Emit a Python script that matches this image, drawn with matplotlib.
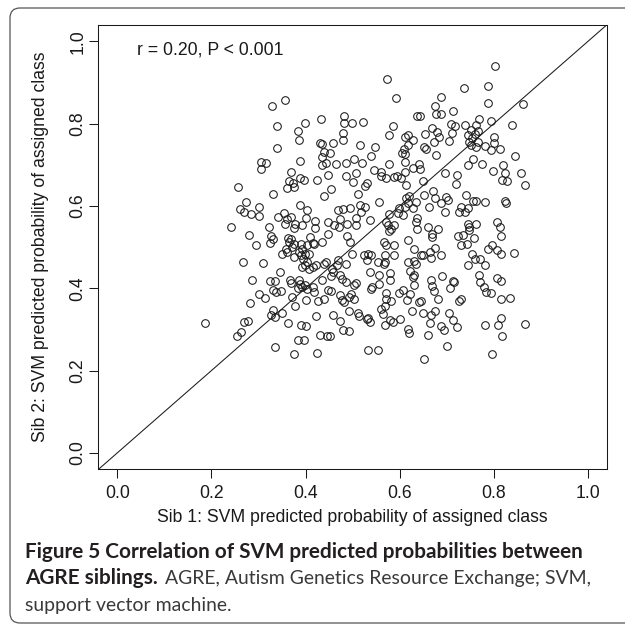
import matplotlib
matplotlib.use("Agg")
import matplotlib.pyplot as plt
from matplotlib.patches import FancyBboxPatch

# ---------------- data ----------------
sib1 = [
    # upper-left block
    0.356,0.329,0.433,0.398,0.340,0.482,0.482,0.498,0.522,0.384,0.480,0.386,0.480,0.430,0.434,0.459,0.515,0.340,
    0.438,0.451,0.435,0.305,0.316,0.305,0.388,0.434,0.444,0.465,0.486,0.503,0.519,0.368,0.365,0.373,0.361,0.376,
    0.389,0.396,0.424,0.447,0.486,0.506,0.500,0.531,0.527,0.256,0.330,0.453,0.439,0.512,0.273,0.261,0.270,0.283,
    0.300,0.300,0.388,0.403,0.401,0.469,0.480,0.494,0.515,0.526,0.517,0.508,0.342,0.355,0.368,0.361,
    # upper-right block
    0.803,0.573,0.736,0.787,0.592,0.688,0.674,0.787,0.861,0.636,0.642,0.677,0.688,0.713,0.769,0.793,0.839,0.585,
    0.709,0.717,0.739,0.762,0.752,0.766,0.759,0.753,0.800,0.799,0.794,0.812,0.653,0.669,0.679,0.683,0.673,0.710,
    0.705,0.745,0.746,0.752,0.761,0.767,0.780,0.578,0.612,0.617,0.617,0.608,0.612,0.605,0.629,0.652,0.656,0.677,
    0.547,0.539,0.577,0.610,0.629,0.641,0.643,0.546,0.560,0.571,0.561,0.588,0.595,0.603,0.612,0.613,0.649,0.696,
    0.722,0.720,0.744,0.756,0.774,0.798,0.819,0.824,0.817,0.827,0.845,0.858,0.866,0.555,0.620,0.613,0.617,0.627,
    0.634,0.652,0.670,0.675,0.688,0.703,0.663,0.698,0.741,0.755,0.761,0.780,0.824,0.826,0.744,0.729,0.725,0.739,
    0.599,0.611,0.597,0.606,0.578,0.636,0.696,
    # lower-left block
    0.242,0.280,0.294,0.323,0.327,0.331,0.324,0.357,0.378,0.375,0.393,0.421,0.421,0.448,0.460,0.471,0.474,0.488,
    0.508,0.362,0.368,0.365,0.375,0.371,0.359,0.390,0.393,0.403,0.410,0.415,0.417,0.435,0.350,0.361,0.375,0.386,
    0.390,0.398,0.407,0.394,0.402,0.266,0.310,0.345,0.393,0.398,0.407,0.416,0.423,0.440,0.444,0.455,0.459,0.454,
    0.469,0.467,0.486,0.499,0.474,0.478,0.485,0.503,0.506,0.525,0.287,0.324,0.334,0.330,0.338,0.348,0.300,0.313,
    0.281,0.366,0.370,0.386,0.389,0.393,0.383,0.398,0.403,0.415,0.417,0.435,0.371,0.377,0.400,0.426,0.439,0.448,
    0.453,0.473,0.478,0.481,0.492,0.503,0.496,0.493,0.512,0.513,0.530,0.474,0.459,0.422,0.186,0.269,0.277,0.262,
    0.254,0.330,0.327,0.334,0.349,0.362,0.391,0.401,0.384,0.396,0.430,0.446,0.451,0.480,0.492,0.336,0.376,0.425,
    0.447,0.487,0.494,
    # lower-right block
    0.537,0.571,0.574,0.581,0.578,0.588,0.634,0.637,0.659,0.668,0.668,0.682,0.744,0.746,0.746,0.762,0.723,0.734,
    0.757,0.730,0.743,0.806,0.812,0.814,0.567,0.571,0.587,0.617,0.631,0.644,0.649,0.664,0.666,0.675,0.688,0.532,
    0.539,0.530,0.554,0.569,0.569,0.567,0.588,0.617,0.631,0.634,0.622,0.630,0.627,0.537,0.556,0.580,0.580,0.556,
    0.542,0.539,0.571,0.571,0.581,0.569,0.598,0.606,0.615,0.622,0.631,0.641,0.646,0.625,0.649,0.666,0.666,0.669,
    0.672,0.681,0.689,0.675,0.707,0.714,0.716,0.725,0.730,0.704,0.713,0.722,0.688,0.693,0.665,0.659,0.769,0.770,
    0.778,0.783,0.793,0.807,0.814,0.815,0.834,0.780,0.788,0.796,0.807,0.814,0.842,0.814,0.808,0.781,0.817,0.866,
    0.796,0.700,0.651,0.533,0.554,0.532,0.537,0.569,0.585,0.580,0.564,0.561,0.601,0.617,0.619,0.753,0.760,0.771,
    0.745,
]
sib2 = [
    # upper-left block
    0.857,0.842,0.812,0.802,0.793,0.819,0.802,0.802,0.804,0.782,0.777,0.760,0.760,0.752,0.750,0.752,0.748,0.740,
    0.731,0.728,0.719,0.706,0.703,0.690,0.708,0.699,0.703,0.701,0.705,0.713,0.703,0.683,0.660,0.655,0.644,0.647,
    0.668,0.663,0.663,0.675,0.672,0.680,0.659,0.656,0.649,0.646,0.629,0.640,0.625,0.628,0.610,0.592,0.586,0.581,
    0.598,0.575,0.603,0.591,0.571,0.589,0.593,0.594,0.602,0.598,0.586,0.571,0.572,0.583,0.574,0.568,
    # upper-right block
    0.939,0.908,0.886,0.892,0.863,0.864,0.843,0.849,0.848,0.818,0.818,0.824,0.824,0.831,0.812,0.806,0.796,0.794,
    0.799,0.794,0.796,0.796,0.784,0.782,0.774,0.765,0.768,0.752,0.735,0.737,0.774,0.790,0.780,0.768,0.756,0.776,
    0.758,0.772,0.754,0.748,0.742,0.756,0.746,0.771,0.768,0.772,0.748,0.737,0.725,0.729,0.759,0.743,0.737,0.723,
    0.742,0.721,0.701,0.707,0.693,0.701,0.690,0.687,0.683,0.667,0.673,0.671,0.673,0.667,0.683,0.650,0.660,0.679,
    0.675,0.653,0.699,0.715,0.701,0.685,0.699,0.681,0.664,0.661,0.721,0.679,0.650,0.610,0.625,0.618,0.606,0.594,
    0.610,0.626,0.637,0.618,0.606,0.614,0.598,0.622,0.626,0.612,0.612,0.610,0.612,0.608,0.594,0.598,0.586,0.584,
    0.594,0.598,0.582,0.578,0.581,0.571,0.584,
    # lower-left block
    0.549,0.530,0.505,0.549,0.528,0.519,0.510,0.556,0.556,0.546,0.553,0.563,0.546,0.561,0.553,0.549,0.569,0.555,
    0.553,0.522,0.519,0.512,0.508,0.500,0.496,0.507,0.496,0.504,0.524,0.510,0.507,0.512,0.484,0.488,0.476,0.488,
    0.481,0.484,0.484,0.472,0.464,0.464,0.461,0.439,0.451,0.456,0.447,0.451,0.457,0.459,0.464,0.447,0.439,0.429,
    0.468,0.456,0.459,0.484,0.431,0.423,0.415,0.409,0.413,0.481,0.419,0.417,0.417,0.395,0.392,0.393,0.387,0.376,
    0.365,0.419,0.413,0.419,0.411,0.403,0.400,0.407,0.399,0.403,0.391,0.419,0.379,0.358,0.371,0.368,0.373,0.395,
    0.393,0.383,0.372,0.367,0.379,0.375,0.387,0.345,0.340,0.332,0.326,0.320,0.334,0.333,0.316,0.318,0.320,0.294,
    0.283,0.346,0.334,0.330,0.341,0.316,0.311,0.309,0.274,0.274,0.286,0.283,0.283,0.298,0.295,0.257,0.240,0.243,
    0.531,0.526,0.513,
    # lower-right block
    0.565,0.562,0.553,0.544,0.540,0.553,0.562,0.544,0.549,0.532,0.524,0.544,0.557,0.549,0.541,0.555,0.527,0.530,
    0.523,0.506,0.508,0.561,0.549,0.526,0.512,0.506,0.504,0.516,0.496,0.481,0.481,0.488,0.474,0.498,0.481,0.484,
    0.480,0.468,0.464,0.481,0.464,0.458,0.480,0.464,0.465,0.459,0.441,0.433,0.427,0.439,0.433,0.438,0.419,0.411,
    0.403,0.399,0.388,0.374,0.368,0.357,0.388,0.395,0.371,0.387,0.407,0.367,0.368,0.344,0.341,0.334,0.421,0.405,
    0.393,0.374,0.430,0.344,0.400,0.417,0.415,0.368,0.373,0.341,0.324,0.306,0.308,0.298,0.316,0.287,0.431,0.415,
    0.403,0.391,0.388,0.425,0.418,0.375,0.376,0.456,0.496,0.504,0.494,0.484,0.485,0.328,0.310,0.310,0.284,0.314,
    0.240,0.259,0.229,0.251,0.251,0.328,0.318,0.311,0.318,0.324,0.338,0.350,0.326,0.302,0.292,0.483,0.472,0.470,
    0.457,
]
ticks = [0.0, 0.2, 0.4, 0.6, 0.8, 1.0]
tick_labels = ["0.0", "0.2", "0.4", "0.6", "0.8", "1.0"]
annotation = "r = 0.20, P < 0.001"
xlabel = "Sib 1: SVM predicted probability of assigned class"
ylabel = "Sib 2: SVM predicted probability of assigned class"
cap_bold1 = "Figure 5 Correlation of SVM predicted probabilities between"
cap_bold2 = "AGRE siblings."
cap_reg2 = "AGRE, Autism Genetics Resource Exchange; SVM,"
cap_reg3 = "support vector machine."

# ---------------- figure ----------------
W = H = 625
DPI = 100
fig = plt.figure(figsize=(W / DPI, H / DPI), dpi=DPI)
fig.patch.set_facecolor("white")

def fx(px):
    return px / W

def fy(py):
    return 1 - py / H

# rounded border around the figure panel (its right side runs off the canvas)
border = FancyBboxPatch((fx(10), fy(623)), 2.0, (623 - 8) / H,
                        boxstyle="round,pad=0,rounding_size=0.016",
                        transform=fig.transFigure, fill=False,
                        edgecolor="#555555", linewidth=0.9, clip_on=False)
fig.patches.append(border)

left, right, top, bottom = 98.4, 607.0, 24.7, 469.4
ax = fig.add_axes([fx(left), fy(bottom), (right - left) / W, (bottom - top) / H])

FONT = "Liberation Sans"
FS = 12.7
INK = "#1a1a1a"

ax.plot(sib1, sib2, linestyle="none", marker="o", markersize=5.5,
        markerfacecolor="none", markeredgecolor=INK, markeredgewidth=0.75)
ax.axline((0, 0), slope=1, color=INK, linewidth=0.75)

ax.set_xlim(-0.04, 1.04)
ax.set_ylim(-0.04, 1.04)
ax.set_xticks(ticks)
ax.set_yticks(ticks)
ax.set_xticklabels(tick_labels, fontfamily=FONT, fontsize=FS)
ax.set_yticklabels(tick_labels, fontfamily=FONT, fontsize=FS, rotation=90, va="center")
ax.tick_params(axis="both", direction="out", length=6.8, width=0.75, color=INK,
               labelcolor=INK)
ax.tick_params(axis="x", pad=4.3)
ax.tick_params(axis="y", pad=1.8)
for s in ax.spines.values():
    s.set_linewidth(0.75)
    s.set_color(INK)

ax.set_xlabel(xlabel, fontfamily=FONT, fontsize=FS, color=INK, va="center")
ax.set_ylabel(ylabel, fontfamily=FONT, fontsize=FS, color=INK, va="center")
ax.xaxis.set_label_coords(0.5, (bottom - 517.7) / (bottom - top))
ax.yaxis.set_label_coords((41 - left) / (right - left), 0.5)

ax.text(0.042, 0.979, annotation, fontfamily=FONT, fontsize=FS, color=INK,
        ha="left", va="center")

# ---------------- caption ----------------
CAP = "Lato"
renderer = fig.canvas.get_renderer()

def width_px(t):
    return t.get_window_extent(renderer=renderer).width

t1 = fig.text(fx(25), fy(557.5), cap_bold1, fontfamily=CAP, fontweight="bold",
              fontsize=14, color="#231f20", ha="left", va="baseline")
bold_fs = 14 * 563 / width_px(t1)
t1.set_fontsize(bold_fs)

t3 = fig.text(fx(25), fy(611), cap_reg3, fontfamily=CAP, fontsize=14,
              color="#3a3a3a", ha="left", va="baseline")
reg_fs = 14 * 207 / width_px(t3)
t3.set_fontsize(reg_fs)

t2b = fig.text(fx(25), fy(584), cap_bold2, fontfamily=CAP, fontweight="bold",
               fontsize=bold_fs, color="#231f20", ha="left", va="baseline")
bx1 = t2b.get_window_extent(renderer=renderer).x1
fig.text((bx1 + 7) / W, fy(584), cap_reg2, fontfamily=CAP, fontsize=reg_fs,
         color="#3a3a3a", ha="left", va="baseline")

fig.savefig("out.png", dpi=DPI, facecolor="white")
